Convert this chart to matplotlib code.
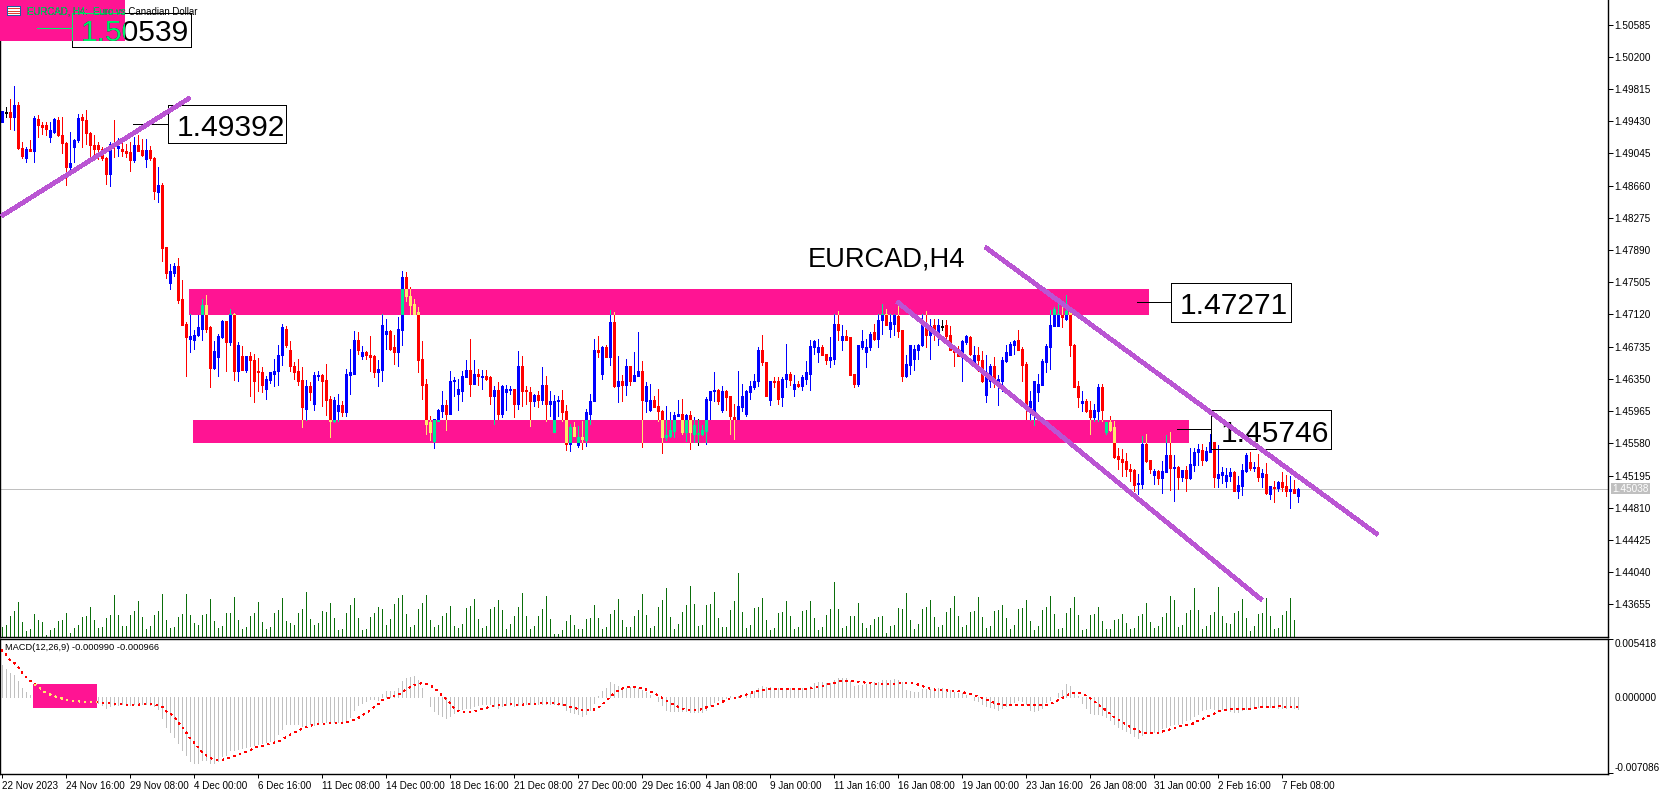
"""EURCAD H4 candles with tick volume and MACD, MT5 style screenshot."""
import numpy as np
import matplotlib
matplotlib.use("Agg")
import matplotlib.pyplot as plt
from matplotlib.patches import Rectangle
from matplotlib.transforms import Affine2D

plt.rcParams["font.family"] = ["Liberation Sans", "DejaVu Sans"]

# ---------------------------------------------------------------------------
# Data (prices in 1e-4, MACD in 1e-5)
# ---------------------------------------------------------------------------
open_pts = [
    14942,14954,14954,14948,14962,14911,14899,14910,14908,14946,
    14939,14939,14924,14930,14945,14927,14917,14888,14912,14920,
    14948,14945,14929,14915,14914,14910,14899,14880,14915,14911,
    14910,14908,14906,14897,14915,14909,14898,14909,14899,14859,
    14867,14793,14750,14762,14770,14731,14701,14683,14681,14687,
    14695,14723,14697,14648,14661,14685,14704,14679,14712,14645,
    14662,14646,14662,14658,14645,14643,14623,14634,14641,14644,
    14663,14695,14670,14651,14644,14634,14599,14626,14605,14638,
    14640,14634,14611,14585,14597,14604,14595,14640,14641,14682,
    14662,14667,14664,14662,14643,14646,14689,14692,14673,14667,
    14694,14757,14734,14724,14715,14659,14629,14583,14561,14585,
    14597,14604,14593,14632,14617,14621,14637,14646,14629,14641,
    14637,14638,14637,14614,14622,14593,14619,14622,14623,14605,
    14651,14622,14619,14608,14616,14610,14628,14605,14572,14608,
    14610,14597,14557,14578,14556,14566,14562,14593,14608,14669,
    14641,14673,14661,14703,14627,14633,14628,14651,14633,14639,
    14645,14609,14598,14610,14603,14597,14565,14567,14573,14591,
    14593,14571,14592,14569,14570,14569,14573,14610,14620,14622,
    14598,14620,14614,14590,14587,14602,14593,14619,14625,14632,
    14669,14655,14610,14632,14632,14613,14635,14641,14623,14629,
    14627,14635,14641,14673,14667,14673,14665,14657,14659,14701,
    14682,14686,14685,14641,14629,14673,14667,14673,14691,14683,
    14705,14712,14695,14701,14710,14693,14638,14652,14659,14670,
    14675,14701,14687,14700,14691,14698,14699,14687,14669,14668,
    14667,14679,14685,14655,14663,14658,14616,14632,14650,14633,
    14632,14656,14664,14676,14681,14671,14653,14602,14595,14619,
    14628,14655,14673,14698,14698,14711,14707,14715,14676,14626,
    14606,14609,14598,14590,14597,14625,14571,14583,14577,14543,
    14539,14537,14527,14526,14509,14509,14557,14538,14520,14525,
    14516,14524,14544,14528,14530,14518,14526,14517,14532,14548,
    14550,14538,14548,14560,14517,14520,14513,14519,14524,14501,
    14507,14525,14536,14529,14530,14518,14521,14497,14506,14505,
    14512,14507,14501,14503,14495,
]
high_pts = [
    14955,14960,14970,14985,14966,14918,14912,14920,14949,14950,
    14942,14942,14942,14947,14948,14948,14918,14930,14922,14952,
    14952,14956,14930,14927,14918,14912,14900,14918,14945,14923,
    14924,14916,14918,14924,14926,14922,14922,14913,14900,14888,
    14869,14793,14772,14774,14780,14753,14703,14713,14694,14711,
    14731,14735,14698,14680,14689,14705,14704,14718,14714,14679,
    14674,14662,14667,14665,14660,14649,14639,14643,14659,14676,
    14701,14698,14680,14655,14659,14649,14634,14631,14643,14644,
    14641,14653,14614,14613,14617,14608,14647,14671,14692,14691,
    14674,14668,14686,14663,14657,14713,14707,14693,14687,14709,
    14764,14763,14745,14731,14721,14680,14635,14591,14587,14599,
    14620,14610,14644,14637,14635,14645,14658,14683,14658,14647,
    14646,14646,14638,14627,14631,14628,14628,14626,14623,14668,
    14662,14626,14625,14617,14620,14649,14638,14620,14616,14615,
    14622,14604,14581,14583,14579,14585,14599,14617,14683,14686,
    14674,14675,14717,14715,14662,14640,14659,14651,14667,14691,
    14656,14631,14629,14615,14623,14598,14603,14596,14596,14610,
    14611,14593,14597,14589,14587,14580,14613,14620,14643,14623,
    14626,14622,14614,14605,14645,14629,14622,14632,14641,14673,
    14688,14655,14632,14637,14637,14637,14677,14643,14640,14632,
    14640,14656,14681,14681,14683,14675,14665,14685,14712,14716,
    14699,14693,14685,14641,14676,14693,14683,14691,14701,14712,
    14724,14718,14712,14712,14723,14693,14663,14676,14675,14677,
    14712,14716,14707,14707,14707,14705,14705,14698,14674,14674,
    14681,14687,14686,14674,14673,14668,14663,14653,14661,14640,
    14661,14675,14679,14682,14693,14673,14655,14621,14633,14641,
    14659,14677,14717,14721,14724,14724,14735,14716,14677,14632,
    14621,14611,14609,14605,14629,14629,14584,14591,14585,14553,
    14551,14547,14533,14527,14521,14567,14569,14538,14527,14526,
    14537,14568,14571,14544,14531,14526,14531,14553,14553,14557,
    14557,14554,14569,14560,14556,14530,14529,14529,14525,14519,
    14533,14547,14548,14536,14545,14527,14535,14507,14513,14513,
    14524,14520,14519,14514,14505,
]
low_pts = [
    14942,14948,14934,14933,14910,14899,14894,14907,14894,14924,
    14928,14926,14918,14929,14925,14905,14867,14884,14894,14918,
    14912,14916,14898,14900,14898,14897,14868,14866,14900,14902,
    14902,14900,14883,14894,14907,14901,14888,14897,14850,14846,
    14776,14756,14743,14758,14726,14699,14638,14667,14671,14686,
    14682,14691,14625,14647,14638,14684,14645,14675,14634,14633,
    14646,14643,14615,14607,14621,14619,14611,14630,14626,14628,
    14652,14673,14644,14635,14628,14578,14586,14610,14598,14634,
    14603,14592,14565,14583,14585,14591,14591,14617,14641,14665,
    14659,14659,14645,14637,14627,14633,14671,14670,14653,14650,
    14676,14728,14713,14712,14643,14611,14569,14562,14553,14585,
    14590,14574,14593,14615,14598,14609,14637,14615,14629,14628,
    14623,14634,14605,14581,14587,14589,14598,14617,14590,14599,
    14603,14605,14579,14603,14601,14605,14585,14591,14572,14591,
    14585,14550,14549,14567,14554,14551,14555,14581,14608,14661,
    14635,14661,14652,14625,14607,14609,14616,14628,14632,14639,
    14554,14595,14597,14601,14585,14547,14562,14566,14566,14591,
    14569,14561,14551,14559,14556,14568,14557,14587,14609,14605,
    14595,14598,14569,14563,14587,14597,14591,14611,14623,14627,
    14652,14614,14604,14625,14605,14603,14625,14628,14615,14625,
    14622,14629,14622,14665,14655,14663,14653,14649,14653,14681,
    14669,14681,14640,14625,14627,14671,14649,14670,14682,14673,
    14689,14699,14685,14687,14685,14633,14637,14641,14646,14659,
    14674,14673,14659,14681,14676,14694,14681,14669,14650,14662,
    14632,14677,14663,14650,14644,14631,14607,14625,14625,14604,
    14620,14655,14664,14665,14669,14633,14587,14586,14580,14609,
    14628,14643,14647,14698,14698,14697,14706,14662,14625,14601,
    14597,14596,14569,14585,14585,14585,14569,14573,14541,14527,
    14519,14519,14513,14501,14498,14505,14536,14522,14509,14509,
    14499,14524,14502,14489,14504,14513,14501,14515,14525,14532,
    14532,14537,14548,14506,14506,14511,14506,14513,14501,14493,
    14496,14524,14526,14525,14513,14506,14497,14491,14488,14501,
    14501,14495,14481,14499,14488,
]
close_pts = [
    14955,14954,14948,14962,14911,14901,14910,14908,14947,14938,
    14936,14934,14932,14946,14926,14917,14888,14893,14921,14947,
    14944,14929,14915,14910,14910,14899,14880,14916,14913,14913,
    14907,14905,14897,14915,14908,14903,14909,14899,14860,14867,
    14792,14762,14764,14770,14729,14700,14685,14686,14688,14697,
    14723,14695,14648,14668,14686,14704,14679,14712,14644,14675,
    14646,14662,14657,14633,14643,14628,14635,14643,14645,14664,
    14697,14676,14650,14643,14633,14601,14626,14619,14640,14640,
    14633,14610,14585,14610,14604,14595,14641,14643,14682,14669,
    14667,14663,14661,14643,14647,14700,14692,14671,14667,14695,
    14757,14734,14723,14713,14658,14628,14581,14572,14587,14598,
    14604,14593,14633,14634,14623,14639,14646,14629,14641,14638,
    14638,14635,14614,14622,14593,14627,14623,14623,14605,14651,
    14621,14620,14608,14616,14610,14628,14605,14609,14609,14610,
    14596,14557,14578,14567,14566,14563,14595,14609,14669,14667,
    14673,14661,14703,14626,14633,14628,14651,14633,14640,14645,
    14610,14627,14610,14602,14597,14565,14568,14574,14592,14593,
    14571,14592,14571,14580,14570,14574,14611,14620,14622,14608,
    14620,14613,14591,14587,14603,14615,14620,14627,14632,14669,
    14655,14614,14632,14631,14611,14635,14641,14634,14629,14627,
    14637,14643,14674,14680,14673,14664,14657,14661,14701,14694,
    14686,14682,14640,14629,14675,14680,14673,14689,14683,14706,
    14712,14700,14703,14711,14692,14638,14653,14675,14671,14676,
    14701,14687,14698,14693,14699,14698,14686,14670,14667,14662,
    14680,14686,14665,14663,14657,14632,14643,14650,14634,14635,
    14657,14667,14677,14680,14670,14652,14602,14609,14633,14629,
    14656,14674,14700,14719,14712,14709,14716,14675,14625,14613,
    14609,14597,14590,14598,14625,14598,14583,14574,14542,14539,
    14536,14527,14525,14508,14511,14557,14537,14527,14525,14516,
    14525,14544,14529,14530,14518,14526,14517,14533,14548,14551,
    14538,14549,14560,14518,14521,14524,14520,14524,14501,14508,
    14526,14544,14529,14530,14518,14523,14499,14507,14505,14512,
    14506,14501,14503,14499,14503,
]
tick_volume = [
    30,35,62,77,104,44,17,23,68,50, 44,5,20,26,48,50,71,11,26,35,
    59,62,89,50,26,29,56,65,125,65, 32,32,65,77,107,59,23,32,65,77,
    128,50,26,29,59,68,128,65,41,35, 65,68,113,47,26,32,71,71,119,50,
    23,29,62,71,104,44,23,29,71,80, 116,47,41,35,71,83,134,53,35,41,
    77,74,101,56,20,23,71,95,116,56, 20,23,59,71,89,83,35,53,98,116,
    125,68,29,35,83,101,125,50,29,35, 62,71,92,32,26,38,86,92,113,53,
    26,32,83,89,110,80,23,38,62,89, 131,62,23,32,62,83,122,53,8,8,
    20,47,65,35,23,23,53,56,95,56, 23,29,68,80,113,50,29,29,62,80,
    128,65,26,32,89,110,146,59,23,38, 74,95,152,98,32,35,95,98,134,56,
    29,29,80,107,191,74,26,35,86,89, 116,50,20,26,71,74,107,62,23,29,
    77,80,107,56,20,29,65,83,164,83, 26,32,62,62,101,41,26,35,53,59,
    62,11,32,35,86,83,131,50,23,38, 83,89,110,59,29,35,74,86,122,62,
    29,35,74,77,119,59,26,32,77,80, 95,56,23,35,83,86,110,47,20,32,
    80,89,122,68,23,26,71,86,119,65, 20,23,65,68,89,47,23,23,50,53,
    68,41,23,26,62,68,101,44,26,32, 59,71,122,110,29,35,71,80,146,80,
    23,32,65,74,149,64,43,40,73,79, 115,58,19,34,70,73,118,64,25,28,
    67,79,118,52,0,
]
macd_hist = [
    302,264,227,208,152,87,50,22,10,-6, -15,-25,-31,-37,-40,-47,-50,-53,-56,-56,
    -59,-53,-53,-56,-56,-72,-96,-81,-72,-72, -62,-68,-72,-62,-62,-62,-62,-72,-81,-109,
    -193,-277,-323,-370,-426,-491,-538,-594,-613,-613, -585,-585,-613,-613,-594,-547,-538,-491,-491,-482,
    -473,-463,-454,-445,-435,-426,-417,-407,-398,-342, -295,-249,-249,-249,-249,-267,-258,-249,-258,-239,
    -230,-230,-230,-230,-230,-230,-230,-183,-118,-72, -53,-34,-16,-16,-25,34,59,59,59,87,
    152,180,190,199,162,87,0,-81,-128,-156, -174,-193,-174,-146,-128,-109,-100,-100,-81,-72,
    -62,-62,-62,-81,-100,-81,-72,-72,-81,-72, -62,-62,-62,-62,-62,-62,-62,-62,-62,-72,
    -72,-118,-137,-146,-156,-174,-156,-118,-53,12, 59,87,143,124,106,87,87,96,96,87,
    68,50,22,3,-34,-72,-118,-128,-128,-128, -128,-128,-137,-137,-137,-137,-118,-72,-44,-25,
    -16,-3,12,6,16,6,22,37,59,87, 106,96,96,87,87,87,87,87,78,87,
    84,87,106,134,143,143,134,134,162,180, 180,180,152,106,115,115,124,134,143,143,
    162,162,162,171,162,143,68,59,50,50, 78,78,78,78,87,87,78,68,50,40,
    40,22,3,-25,-34,-62,-81,-90,-100,-118, -100,-81,-62,-44,-25,-34,-62,-118,-128,-118,
    -100,-44,-25,3,40,68,124,106,50,16, -53,-100,-146,-156,-156,-165,-183,-211,-249,-277,
    -295,-314,-333,-361,-379,-351,-333,-333,-323,-314, -286,-277,-258,-249,-249,-236,-211,-202,-174,-156,
    -118,-109,-100,-109,-109,-109,-118,-128,-137,-137, -118,-109,-109,-100,-93,-90,-90,-90,-90,-100,
    -100,-100,-90,-100,-109,
]
macd_signal = [
    442,404,355,327,292,239,193,162,131,100, 75,44,28,16,0,-9,-25,-31,-34,-37,
    -40,-44,-44,-44,-47,-50,-50,-56,-59,-62, -65,-68,-72,-72,-68,-65,-65,-65,-65,-72,
    -81,-124,-149,-171,-227,-267,-317,-376,-414,-460, -507,-538,-560,-578,-585,-582,-578,-566,-550,-538,
    -522,-510,-498,-476,-460,-457,-445,-435,-423,-414, -398,-373,-351,-333,-311,-295,-280,-267,-258,-252,
    -249,-246,-243,-243,-243,-243,-236,-227,-211,-196, -174,-149,-128,-96,-72,-31,-12,0,9,16,
    44,68,93,115,124,131,128,115,93,62, 22,-9,-50,-93,-124,-137,-140,-140,-131,-121,
    -112,-103,-87,-78,-75,-72,-68,-65,-68,-72, -68,-65,-62,-62,-59,-56,-56,-56,-56,-59,
    -68,-75,-87,-96,-106,-118,-121,-121,-115,-103, -72,-40,-3,31,59,81,90,96,100,96,
    87,75,59,37,22,0,-25,-50,-68,-87, -103,-115,-121,-121,-118,-112,-96,-87,-78,-62,
    -47,-25,-16,-9,-3,9,22,37,50,62, 68,75,81,81,81,81,78,78,78,81,
    75,78,81,93,100,106,112,124,131,143, 152,156,156,149,146,143,137,137,131,124,
    121,121,121,124,131,137,137,137,131,121, 109,93,81,75,68,65,65,62,62,59,
    53,40,31,22,12,-3,-16,-31,-50,-56, -68,-75,-75,-72,-72,-68,-68,-68,-68,-72,
    -75,-72,-65,-50,-31,-12,12,31,40,40, 37,19,-6,-31,-62,-87,-118,-149,-180,-199,
    -227,-252,-274,-292,-314,-323,-330,-330,-333,-333, -323,-311,-299,-289,-280,-267,-261,-252,-243,-221,
    -205,-187,-171,-156,-137,-124,-118,-112,-112,-112, -112,-112,-106,-100,-96,-93,-90,-90,-90,-84,
    -84,-93,-93,-93,-93,
]
assert all(len(s) == 325 for s in (open_pts, high_pts, low_pts, close_pts,
                                   tick_volume, macd_hist, macd_signal))

price_ticks = ["1.50585", "1.50200", "1.49815", "1.49430", "1.49045", "1.48660", "1.48275",
               "1.47890", "1.47505", "1.47120", "1.46735", "1.46350", "1.45965", "1.45580",
               "1.45195", "1.44810", "1.44425", "1.44040", "1.43655"]
macd_ticks = [0.005418, 0.0, -0.007086]
macd_tick_labels = ["0.005418", "0.000000", "-0.007086"]
date_labels = ["22 Nov 2023", "24 Nov 16:00", "29 Nov 08:00", "4 Dec 00:00", "6 Dec 16:00",
               "11 Dec 08:00", "14 Dec 00:00", "18 Dec 16:00", "21 Dec 08:00", "27 Dec 00:00",
               "29 Dec 16:00", "4 Jan 08:00", "9 Jan 00:00", "11 Jan 16:00", "16 Jan 08:00",
               "19 Jan 00:00", "23 Jan 16:00", "26 Jan 08:00", "31 Jan 00:00", "2 Feb 16:00",
               "7 Feb 08:00"]
last_price = 1.45038

# zones: first bar, last bar, top price, bottom price
zone_top_left = (-1, 30.9, 1.50880, 1.50392)
zone_resistance = (46.9, 286.9, 1.47424, 1.47117)
zone_support = (47.9, 296.9, 1.45859, 1.45587)
macd_zone = (7.9, 23.9, 0.00124, -0.00100)

# trend lines: (bar, price) pairs
trend_up = ([0, 47.1], [1.48297, 1.49710])
channel_upper = ([245.9, 344.1], [1.47926, 1.44487])
channel_lower = ([223.9, 315.1], [1.47273, 1.43707])

# ---------------------------------------------------------------------------
# Figure layout, in screen pixels
# ---------------------------------------------------------------------------
W, H = 1659, 793
DPI = 100
PX = 72 / DPI
AXIS_X = 1608
MAIN_BOTTOM = 637.0
MACD_TOP, MACD_BOTTOM = 639.0, 774.3

BLUE, RED = "#0000FF", "#FF0000"
PINK = "#FF1493"
XOR_BLUE, XOR_RED, XOR_BLACK = "#00EB93", "#FFEB6C", "#00EB6C"
ORCHID = "#BA55D3"
GRAY = "#C0C0C0"
FS_PRICE = 7.2
FS_DATE = 7.1

fig = plt.figure(figsize=(W / DPI, H / DPI), dpi=DPI, facecolor="white")
px = Affine2D().scale(1, -1).translate(0, H)  # pixel coords, origin top left


def axes_at(top, bottom):
    return fig.add_axes([0, 1 - bottom / H, AXIS_X / W, (bottom - top) / H])


ax_vol = axes_at(0, MAIN_BOTTOM)
ax = axes_at(0, MAIN_BOTTOM)
ax_macd = axes_at(MACD_TOP, MACD_BOTTOM)

ax_vol.set_zorder(0)
ax.set_zorder(1)
ax.patch.set_visible(False)

bars = np.arange(325)
xlim = (-1.5 / 4, (AXIS_X - 1.5) / 4)
o = np.array(open_pts) / 1e4
h = np.array(high_pts) / 1e4
l = np.array(low_pts) / 1e4
c = np.array(close_pts) / 1e4

# ---------------------------------------------------------------------------
# Volume
# ---------------------------------------------------------------------------
ax_vol.vlines(bars, 0, tick_volume, colors="#0B6E0B", linewidth=PX, antialiased=False, capstyle="butt")
ax_vol.set_xlim(xlim)
ax_vol.set_ylim(0, MAIN_BOTTOM * 3)
ax_vol.axis("off")

# ---------------------------------------------------------------------------
# Candles and zones
# ---------------------------------------------------------------------------
ax.set_xlim(xlim)
ax.set_ylim(1.43265, 1.50879)
ax.axhline(last_price, color=GRAY, linewidth=PX, zorder=1)


def zone(bounds, axis=None, z=3):
    axis = axis or ax
    x0, x1, top, bottom = bounds
    rect = Rectangle((x0, bottom), x1 - x0, top - bottom, facecolor=PINK, edgecolor="none",
                     antialiased=False, zorder=z)
    axis.add_patch(rect)
    return rect


def draw_candles(up_color, down_color, flat_color, z, clip=None):
    one_px = 0.00012
    for mask, color in ((c > o, up_color), (c < o, down_color), (c == o, flat_color)):
        top = np.maximum(o, c)[mask]
        bottom = np.minimum(o, c)[mask]
        bottom = np.where(top - bottom < one_px, top - one_px, bottom)
        wick = ax.vlines(bars[mask], l[mask], h[mask], colors=color, linewidth=PX,
                         antialiased=False, capstyle="butt", zorder=z)
        body = ax.vlines(bars[mask], bottom, top, colors=color, linewidth=3 * PX,
                         antialiased=False, capstyle="butt", zorder=z + 0.1)
        if clip is not None:
            wick.set_clip_path(clip)
            body.set_clip_path(clip)


draw_candles(BLUE, RED, "black", 2)
rect_top = zone(zone_top_left)
rect_res = zone(zone_resistance)
rect_sup = zone(zone_support)
draw_candles(XOR_BLUE, XOR_RED, XOR_BLACK, 4, clip=rect_res)
draw_candles(XOR_BLUE, XOR_RED, XOR_BLACK, 4, clip=rect_sup)

for xs, ys in (trend_up, channel_upper, channel_lower):
    ax.plot(xs, ys, color=ORCHID, linewidth=3.6 * PX, antialiased=False,
            solid_capstyle="butt", zorder=7)

# ---------------------------------------------------------------------------
# Price call-outs
# ---------------------------------------------------------------------------
def callout(label, box, leader_x, leader_y, text_x, text_y, color="black", clip=None, z=5):
    x0, y0, x1, y1 = box
    frame = Rectangle((x0, y0), x1 - x0, y1 - y0, fill=False, edgecolor=color, linewidth=PX,
                      transform=px, antialiased=False, zorder=z)
    ax.add_patch(frame)
    artists = [frame]
    artists += ax.plot([leader_x, x0], [leader_y, leader_y], color=color, linewidth=PX,
                       transform=px, antialiased=False, zorder=z)
    artists.append(ax.text(text_x, text_y, label, transform=px, fontsize=21.6, color=color,
                           ha="center", va="center_baseline", zorder=z))
    for a in artists:
        if clip is not None:
            a.set_clip_on(True)
            a.set_clip_path(clip)
        else:
            a.set_clip_on(False)


callout("1.49392", (167.7, 105.3, 286.3, 143.3), 133, 124.3, 231, 125.3)
callout("1.47271", (1171.3, 283.3, 1290.7, 321.7), 1137.3, 302.3, 1234, 303.3)
callout("1.45746", (1211.3, 410.3, 1330.7, 448.7), 1176.7, 429.3, 1275, 430.7)
callout("1.50539", (72, 13.3, 191, 47.3), 37, 28, 135, 30)
callout("1.50539", (72, 13.3, 191, 47.3), 37, 28, 135, 30, color=XOR_BLACK, clip=rect_top, z=5.5)

ax.text(808, 257, "EURCAD,H4", transform=px, fontsize=19.6, ha="left", va="center_baseline",
        color="black", zorder=5)

# header with its small table icon
header = "EURCAD, H4:  Euro vs Canadian Dollar"
ax.text(27, 11, header, transform=px, fontsize=6.9, ha="left", va="center_baseline",
        color="black", zorder=6)
t = ax.text(27, 11, header, transform=px, fontsize=6.9, ha="left", va="center_baseline",
            color=XOR_BLACK, zorder=6.1)
t.set_clip_on(True)
t.set_clip_path(rect_top)
ax.add_patch(Rectangle((7, 6), 13, 9, facecolor="white", edgecolor="#2060A0", linewidth=PX,
                       transform=px, antialiased=False, zorder=6))
for row_y in (8, 10.5, 13):
    ax.plot([8, 13], [row_y, row_y], color="#E04030", linewidth=PX, transform=px,
            antialiased=False, zorder=6.1)
    ax.plot([14, 19], [row_y, row_y], color="#E04030", linewidth=PX, transform=px,
            antialiased=False, zorder=6.1)

# ---------------------------------------------------------------------------
# Price axis
# ---------------------------------------------------------------------------
ax.yaxis.tick_right()
ax.set_yticks([float(v) for v in price_ticks])
ax.set_yticklabels(price_ticks, fontsize=FS_PRICE)
ax.tick_params(axis="y", length=3.6, width=PX, pad=1, color="black")
ax.set_xticks([])
ax.spines["top"].set_visible(False)
for side in ("left", "right", "bottom"):
    ax.spines[side].set_linewidth(1.4 * PX)

ax.add_patch(Rectangle((AXIS_X + 3, 483), 39, 11, facecolor=GRAY, edgecolor="none", transform=px,
                       clip_on=False, zorder=8))
ax.text(AXIS_X + 22.5, 488.5, f"{last_price:.5f}", transform=px, fontsize=FS_PRICE, color="white",
        ha="center", va="center", clip_on=False, zorder=9)

# ---------------------------------------------------------------------------
# MACD panel
# ---------------------------------------------------------------------------
hist = np.array(macd_hist) * 1e-5
signal = np.array(macd_signal) * 1e-5

ax_macd.set_xlim(xlim)
ax_macd.set_ylim(-0.00718, 0.00544)
ax_macd.vlines(bars, 0, hist, colors=GRAY, linewidth=PX, antialiased=False, capstyle="butt", zorder=2)
rect_macd = zone(macd_zone, ax_macd, z=3)
ax_macd.plot(bars, signal, color=RED, linewidth=0.8 * PX, linestyle=(0, (2.5, 5.5)),
             antialiased=False, zorder=4)
sig_yellow, = ax_macd.plot(bars, signal, color=XOR_RED, linewidth=0.8 * PX, linestyle=(0, (2.5, 5.5)),
                           antialiased=False, zorder=5)
sig_yellow.set_clip_path(rect_macd)

ax_macd.text(5, 647, "MACD(12,26,9) -0.000990 -0.000966", transform=px, fontsize=6.7,
             ha="left", va="center", zorder=6)

ax_macd.yaxis.tick_right()
ax_macd.set_yticks(macd_ticks)
ax_macd.set_yticklabels(macd_tick_labels, fontsize=FS_PRICE)
ax_macd.tick_params(axis="y", length=3.6, width=PX, pad=1)
ytick_labels = ax_macd.get_yticklabels()
ytick_labels[0].set_va("top")
ytick_labels[2].set_va("bottom")
ax_macd.yaxis.get_major_ticks()[1].tick2line.set_visible(False)

ax_macd.set_xticks(bars[::16][:len(date_labels)])
ax_macd.set_xticklabels(date_labels, fontsize=FS_DATE, ha="left")
ax_macd.tick_params(axis="x", length=3, width=PX, pad=2)
for spine in ax_macd.spines.values():
    spine.set_linewidth(1.4 * PX)

fig.savefig("out.png", dpi=DPI)
